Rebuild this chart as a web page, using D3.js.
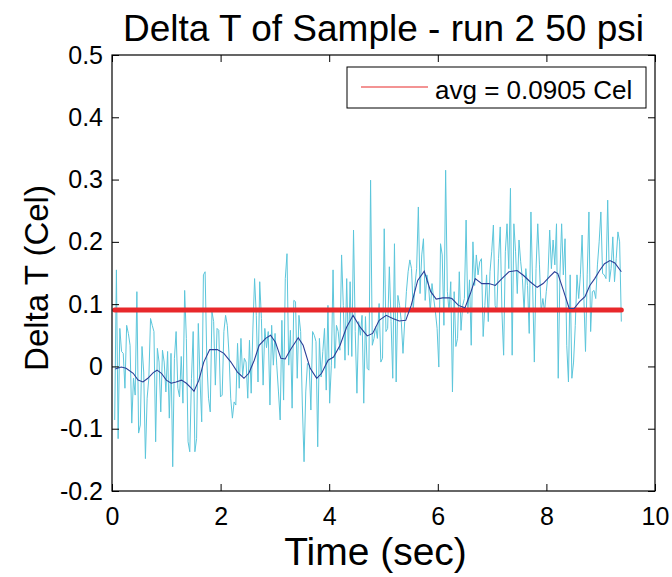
<!DOCTYPE html>
<html>
<head>
<meta charset="utf-8">
<script src="https://cdn.jsdelivr.net/npm/d3@7"></script>
<style>
body { margin: 0; background: #fff; }
svg text { font-family: "Liberation Sans", Arial, sans-serif; fill: #000; }
</style>
</head>
<body>
<script>
// Raw delta T samples (Cel), evenly spaced in time
var rawStart = 0.05, rawEnd = 9.38;
var rawValues = [
  -0.086, 0.155, -0.116, 0.061, 0.024, 0.021, -0.035, 0.066, 0.053, 0.034,
  -0.091, -0.019, -0.046, 0.120, -0.107, -0.094, 0.032, -0.009, -0.148, -0.051,
  -0.019, 0.077, 0.066, 0.056, -0.121, 0.029, 0.007, -0.073, 0.026, 0.007,
  -0.041, 0.024, -0.083, 0.021, -0.161, 0.013, 0.056, -0.035, -0.049, 0.016,
  -0.059, 0.122, 0.045, -0.121, -0.137, -0.019, 0.056,
  -0.137, -0.116, 0.069, -0.020, -0.089, 0.147, 0.152, 0.010, -0.051, -0.073,
  0.088, 0.072, -0.030, 0.061, 0.058, -0.049, -0.046, 0.056, 0.082, 0.066,
  0.020, -0.051, -0.083, -0.057, -0.062, 0.037, -0.035, 0.045, -0.015, 0.013,
  0.007, -0.051, 0.042, -0.043, 0.060, 0.141, 0.082, -0.025, 0.136, 0.077,
  -0.030, 0.061, 0.030, 0.056, -0.062, 0.066,
  0.002, 0.053, 0.002, -0.041, -0.086, 0.074, -0.054, 0.141, 0.181, 0.002,
  0.058, -0.067, 0.106, 0.104, -0.019, 0.082, 0.056, -0.062, -0.153, -0.041,
  0.005, 0.002, -0.070, 0.056, 0.050, 0.040, -0.129, 0.045, -0.017, 0.024,
  0.061, -0.038, 0.098, -0.059, 0.002, 0.155, -0.003, 0.066, 0.056, 0.026,
  0.179, 0.098, 0.010, 0.141, 0.018, 0.136, 0.016, 0.219, 0.056, -0.043,
  0.072, 0.050,
  0.082, -0.059, 0.080, -0.003, -0.006, 0.299, 0.034, 0.045, 0.064, 0.045,
  0.101, 0.007, 0.013, 0.221, 0.056, 0.061, 0.160, 0.072, -0.019, 0.197,
  -0.025, 0.114, 0.098, 0.072, 0.021, 0.072, 0.120, 0.152, 0.171, 0.157,
  0.090, 0.130, 0.157, 0.256, 0.117, 0.179, 0.205, 0.106, 0.147, 0.130,
  0.088, 0.133, 0.109, 0.088, 0.061, -0.001, 0.197, 0.179, 0.066, 0.315,
  0.120,
  0.088, 0.136, -0.041, 0.120, 0.032, 0.045, 0.152, 0.058, 0.098, 0.109,
  0.235, 0.085, 0.139, 0.034, 0.200, 0.130, 0.179, 0.147, 0.168, 0.173,
  0.048, 0.098, 0.147, 0.072, 0.152, 0.184, 0.227, 0.098, 0.088, 0.173,
  0.224, 0.088, 0.018, 0.184, 0.229, 0.157, 0.286, 0.018, 0.229, 0.184,
  0.117, 0.203, 0.168, 0.141, 0.088, 0.157, 0.130, 0.053, 0.248, 0.130,
  0.007, 0.157,
  0.229, 0.163, 0.088, 0.109, 0.088, 0.120, 0.147, 0.219, 0.157, 0.203,
  0.163, 0.229, -0.019, 0.147, 0.229, 0.147, 0.205, 0.034, -0.025, 0.147,
  -0.019, 0.007, 0.066, 0.147, 0.109, 0.147, 0.211, 0.114, 0.024, 0.147,
  0.248, 0.056, 0.120, 0.122, 0.109, 0.163, 0.200, 0.248, 0.149, 0.147,
  0.141, 0.267, 0.136, 0.157, 0.208, 0.136, 0.173, 0.216, 0.200, 0.072
];

// Smoothed curve (time, value)
var smoothTime = [0.06, 0.17, 0.26, 0.39, 0.48, 0.57, 0.66, 0.76, 0.83, 0.91,
  1.00, 1.09, 1.18, 1.28, 1.37, 1.46, 1.51, 1.60, 1.69, 1.80, 1.94, 2.06, 2.19,
  2.31, 2.43, 2.52, 2.62, 2.71, 2.83, 2.92, 3.01, 3.11, 3.19, 3.28, 3.43, 3.52,
  3.65, 3.77, 3.86, 3.98, 4.08, 4.20, 4.32, 4.44, 4.57, 4.70, 4.80, 4.92, 5.05,
  5.17, 5.29, 5.41, 5.51, 5.63, 5.75, 5.87, 5.97, 6.09, 6.21, 6.26, 6.38, 6.50,
  6.60, 6.69, 6.81, 6.94, 7.06, 7.18, 7.31, 7.46, 7.58, 7.70, 7.83, 7.94, 8.06,
  8.15, 8.21, 8.31, 8.42, 8.51, 8.61, 8.71, 8.80, 8.89, 8.98, 9.07, 9.17, 9.26, 9.38];
var smoothValues = [-0.004, -0.001, -0.003, -0.011, -0.022, -0.025, -0.019, -0.010, -0.006, -0.011,
  -0.022, -0.027, -0.025, -0.022, -0.027, -0.035, -0.040, -0.022, 0.007, 0.027, 0.027, 0.021, 0.007,
  -0.009, -0.019, -0.011, 0.010, 0.034, 0.045, 0.050, 0.039, 0.013, 0.012, 0.026, 0.046, 0.034,
  -0.003, -0.019, -0.011, 0.010, 0.015, 0.034, 0.063, 0.082, 0.063, 0.049, 0.053, 0.074, 0.082,
  0.077, 0.073, 0.074, 0.098, 0.138, 0.153, 0.120, 0.108, 0.110, 0.110, 0.109, 0.098, 0.094,
  0.117, 0.141, 0.133, 0.133, 0.130, 0.141, 0.152, 0.154, 0.146, 0.136, 0.127, 0.133, 0.144,
  0.152, 0.149, 0.123, 0.093, 0.093, 0.104, 0.112, 0.130, 0.141, 0.154, 0.165, 0.170, 0.166, 0.152];

var avgValue = 0.0905;
var titleText = "Delta T of Sample - run 2 50 psi";
var xLabel = "Time (sec)";
var yLabel = "Delta T (Cel)";
var legendText = "avg = 0.0905 Cel";
var xTicks = [0, 2, 4, 6, 8, 10];
var yTicks = [-0.2, -0.1, 0, 0.1, 0.2, 0.3, 0.4, 0.5];

var W = 672, H = 577;
var M = {left: 112, right: 17, top: 55, bottom: 86};

var svg = d3.select("body").append("svg")
    .attr("width", W)
    .attr("height", H);

svg.append("rect").attr("width", W).attr("height", H).attr("fill", "#fff");

var x = d3.scaleLinear().domain([0, 10]).range([M.left, W - M.right]);
var y = d3.scaleLinear().domain([-0.2, 0.5]).range([H - M.bottom, M.top]);

var rawTimes = d3.range(rawValues.length).map(function(i) {
    return rawStart + i * (rawEnd - rawStart) / (rawValues.length - 1);
});

var line = d3.line()
    .x(function(d) { return x(d[0]); })
    .y(function(d) { return y(d[1]); });

// raw data
svg.append("path")
    .attr("d", line(rawValues.map(function(v, i) { return [rawTimes[i], v]; })))
    .attr("fill", "none")
    .attr("stroke", "#5cc6db")
    .attr("stroke-width", 1);

// average line
svg.append("path")
    .attr("d", line([[rawStart, avgValue], [rawEnd, avgValue]]))
    .attr("fill", "none")
    .attr("stroke", "#e8282b")
    .attr("stroke-width", 5)
    .attr("stroke-linecap", "round");

// smoothed
svg.append("path")
    .attr("d", line(smoothTime.map(function(t, i) { return [t, smoothValues[i]]; })))
    .attr("fill", "none")
    .attr("stroke", "#2b3e97")
    .attr("stroke-width", 1.1);

// box + ticks
var plotW = W - M.right - M.left, plotH = H - M.bottom - M.top;
svg.append("rect")
    .attr("x", M.left).attr("y", M.top)
    .attr("width", plotW).attr("height", plotH)
    .attr("fill", "none").attr("stroke", "#000").attr("stroke-width", 1.2);

var fmt = function(d) { return d === 0 ? "0" : d3.format(".1f")(d).replace("\u2212", "-"); };

var tickLen = 7;
var xAxis = d3.axisBottom(x).tickValues(xTicks).tickSizeInner(-tickLen).tickSizeOuter(0).tickPadding(16);
var gx = svg.append("g")
    .attr("transform", "translate(0," + (H - M.bottom) + ")")
    .call(xAxis);
gx.select(".domain").remove();
gx.selectAll("text").attr("font-size", 25);

svg.append("g")
    .attr("transform", "translate(0," + M.top + ")")
    .call(d3.axisTop(x).tickValues(xTicks).tickSizeInner(-tickLen).tickSizeOuter(0).tickFormat(""))
    .select(".domain").remove();

var yAxis = d3.axisLeft(y).tickValues(yTicks).tickSizeInner(-tickLen).tickSizeOuter(0).tickPadding(9)
    .tickFormat(fmt);
var gy = svg.append("g")
    .attr("transform", "translate(" + M.left + ",0)")
    .call(yAxis);
gy.select(".domain").remove();
gy.selectAll("text").attr("font-size", 25);

svg.append("g")
    .attr("transform", "translate(" + (W - M.right) + ",0)")
    .call(d3.axisRight(y).tickValues(yTicks).tickSizeInner(-tickLen).tickSizeOuter(0).tickFormat(""))
    .select(".domain").remove();

svg.selectAll(".tick line").attr("stroke", "#000");

// title and labels
svg.append("text")
    .attr("x", (M.left + W - M.right) / 2)
    .attr("y", 41)
    .attr("text-anchor", "middle")
    .attr("font-size", 37)
    .text(titleText);

svg.append("text")
    .attr("x", (M.left + W - M.right) / 2 - 8)
    .attr("y", 565)
    .attr("text-anchor", "middle")
    .attr("font-size", 39)
    .text(xLabel);

svg.append("text")
    .attr("transform", "translate(48," + (M.top + plotH / 2 + 5) + ") rotate(-90)")
    .attr("text-anchor", "middle")
    .attr("font-size", 33)
    .text(yLabel);

// legend
var lg = svg.append("g");
lg.append("rect")
    .attr("x", 347).attr("y", 67)
    .attr("width", 299).attr("height", 41)
    .attr("fill", "#fff").attr("stroke", "#000").attr("stroke-width", 1);
lg.append("line")
    .attr("x1", 361).attr("x2", 428)
    .attr("y1", 87).attr("y2", 87)
    .attr("stroke", "#ef6f6f").attr("stroke-width", 1.5);
lg.append("text")
    .attr("x", 435).attr("y", 99)
    .attr("font-size", 26)
    .text(legendText);
</script>
</body>
</html>
